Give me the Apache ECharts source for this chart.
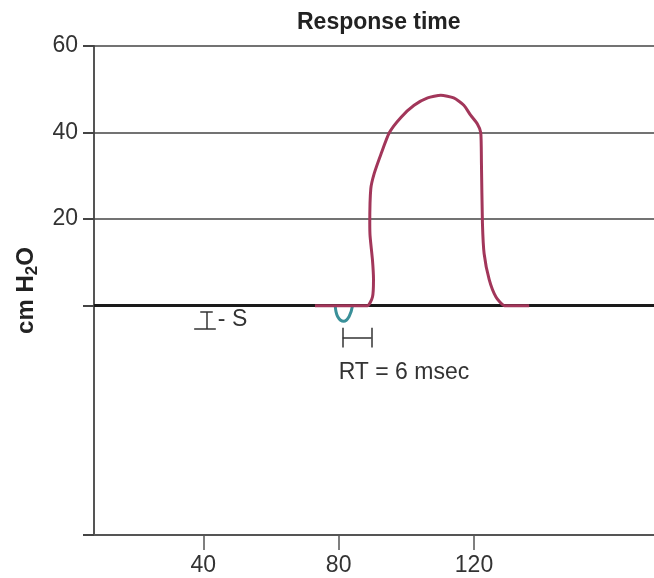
<!DOCTYPE html>
<html>
<head>
<meta charset="utf-8">
<script src="https://cdn.jsdelivr.net/npm/echarts@6/dist/echarts.min.js"></script>
<style>
  html, body { margin: 0; padding: 0; background: #fff; }
  #chart { width: 654px; height: 578px; }
</style>
</head>
<body>
<div id="chart"></div>
<script>
// pressure trace (cm H2O) against time
const pressureX = [73, 88.5, 90, 90.3, 90, 89.3, 89.2, 89.5, 90.5, 92.5, 95, 98.4, 102.3, 106.3, 110.2, 114, 117, 119, 121, 122, 122.2, 122.5, 123, 124.5, 126.5, 129, 136.3];
const pressureY = [0, 0, 2, 6, 10.5, 16, 19, 27, 30.5, 35, 40, 43.5, 46.3, 48, 48.6, 48, 46.3, 44, 42, 40, 33, 19, 12, 6, 2, 0, 0];
// small negative dip that triggers the breath
const triggerX = [79, 79.7, 81.5, 83.1, 84.1];
const triggerY = [0, -2.5, -3.6, -2.5, 0];
// tick labels
const xTicks = [40, 80, 120];
const yTicks = [20, 40, 60];

const FONT = 'Liberation Sans, Arial, sans-serif';
const chart = echarts.init(document.getElementById('chart'));

function pairs(xs, ys) {
    return xs.map(function (x, i) { return [x, ys[i]]; });
}

chart.setOption({
    animation: false,
    title: {
        text: 'Response time',
        left: 292,
        top: 6,
        textStyle: { fontFamily: FONT, fontSize: 23, fontWeight: 'bold', color: '#222' }
    },
    grid: { left: 94, right: 0, top: 46, bottom: 43 },
    xAxis: {
        type: 'value',
        min: 7.7,
        max: 173.2,
        axisLine: { show: true, onZero: false, lineStyle: { color: '#555', width: 2 } },
        axisTick: { show: true, customValues: xTicks, length: 15, lineStyle: { color: '#555', width: 1.5 } },
        axisLabel: { customValues: xTicks, margin: 19, fontFamily: FONT, fontSize: 23, color: '#333' },
        splitLine: { show: false }
    },
    yAxis: {
        type: 'value',
        min: -53,
        max: 60,
        name: '{a|cm H}{b|2}{a|O}',
        nameLocation: 'middle',
        nameRotate: 90,
        nameGap: 53,
        nameTextStyle: {
            rich: {
                a: { fontFamily: FONT, fontSize: 24, fontWeight: 'bold', color: '#222', lineHeight: 30 },
                b: { fontFamily: FONT, fontSize: 17, fontWeight: 'bold', color: '#222', lineHeight: 18, verticalAlign: 'bottom' }
            }
        },
        axisLine: { show: true, onZero: false, lineStyle: { color: '#555', width: 2 } },
        axisTick: { show: true, customValues: [-53, 0, 20, 40, 60], length: 11, lineStyle: { color: '#444', width: 2 } },
        axisLabel: { customValues: yTicks, margin: 16, fontFamily: FONT, fontSize: 23, color: '#333' },
        splitLine: { show: false }
    },
    series: [
        {
            name: 'guides',
            type: 'line',
            data: [],
            z: 1,
            silent: true,
            markLine: {
                silent: true,
                z: 1,
                symbol: ['none', 'none'],
                label: { show: false },
                lineStyle: { color: '#444', width: 1.5, type: 'solid' },
                data: yTicks.map(function (v) { return { yAxis: v }; }).concat([
                    { yAxis: 0, lineStyle: { color: '#1a1a1a', width: 3, type: 'solid' } }
                ])
            }
        },
        {
            name: 'annotations',
            type: 'line',
            data: [],
            z: 2,
            silent: true,
            markLine: {
                silent: true,
                z: 2,
                symbol: ['none', 'none'],
                label: { show: false },
                lineStyle: { color: '#333', width: 1.5, type: 'solid' },
                data: [
                    // RT bracket
                    [{ coord: [81.2, -5.1] }, { coord: [81.2, -9.7] }],
                    [{ coord: [89.7, -5.1] }, { coord: [89.7, -9.7] }],
                    [{ coord: [81.2, -7.4] }, { coord: [89.7, -7.4] }],
                    // S marker (I-beam)
                    [{ coord: [39.1, -1.45] }, { coord: [42.8, -1.45] }],
                    [{ coord: [40.9, -1.45] }, { coord: [40.9, -5.4] }],
                    [{ coord: [37.3, -5.4] }, { coord: [43.7, -5.4] }]
                ]
            },
            markPoint: {
                silent: true,
                z: 2,
                symbol: 'circle',
                symbolSize: 0,
                data: [
                    {
                        coord: [99.3, -15.4],
                        label: { show: true, formatter: 'RT = 6 msec', position: 'inside', fontFamily: FONT, fontSize: 23, color: '#333' }
                    },
                    {
                        coord: [44.3, -3.2],
                        label: { show: true, formatter: '- S', position: 'right', distance: 0, fontFamily: FONT, fontSize: 23, color: '#333' }
                    }
                ]
            }
        },
        {
            name: 'pressure',
            type: 'line',
            data: pairs(pressureX, pressureY),
            showSymbol: false,
            smooth: 0.2,
            z: 4,
            lineStyle: { color: '#a2365a', width: 3 }
        },
        {
            name: 'trigger',
            type: 'line',
            data: pairs(triggerX, triggerY),
            showSymbol: false,
            smooth: 0.4,
            z: 3,
            lineStyle: { color: '#3a9099', width: 3 }
        }
    ]
});
</script>
</body>
</html>
